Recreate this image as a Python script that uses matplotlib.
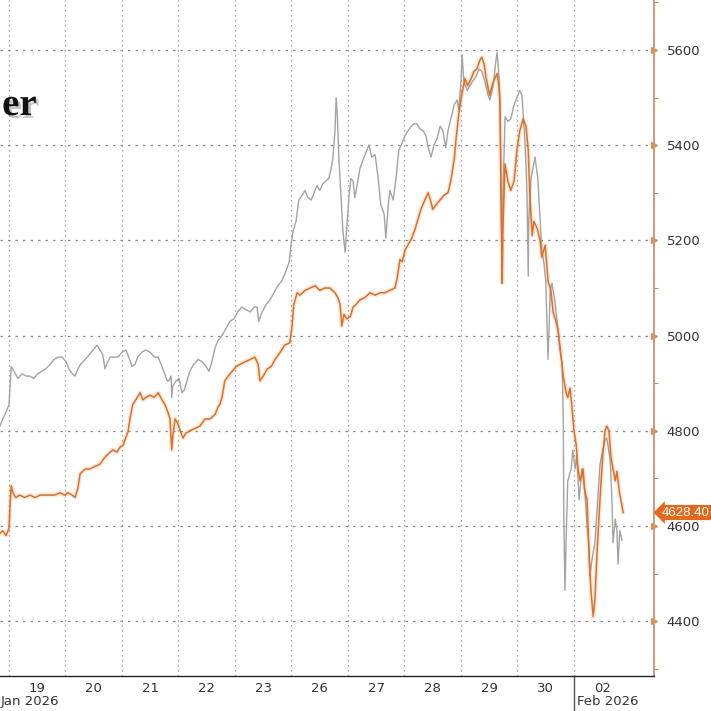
import matplotlib
matplotlib.use("Agg")
import matplotlib.pyplot as plt
import matplotlib.patheffects as pe
import matplotlib.transforms as mtransforms

# session offsets (days from the 19 Jan open) and prices
gold_t = [-0.16, -0.11, -0.05, 0.00, 0.02, 0.04, 0.07, 0.12, 0.19, 0.28, 0.37, 0.46, 0.55, 0.64, 0.73,
          0.81, 0.90, 0.99, 1.04, 1.12, 1.17, 1.22, 1.26, 1.35, 1.43, 1.52, 1.61, 1.70, 1.79, 1.84,
          1.91, 1.96, 2.02, 2.05, 2.11, 2.14, 2.19, 2.27, 2.32, 2.37, 2.42, 2.50, 2.57, 2.64, 2.71,
          2.76, 2.81, 2.85, 2.88, 2.90, 2.94, 2.99, 3.03, 3.08, 3.13, 3.20, 3.29, 3.38, 3.47, 3.56,
          3.65, 3.70, 3.73, 3.77, 3.82, 3.88, 3.95, 4.02, 4.09, 4.18, 4.27, 4.35, 4.41, 4.44, 4.50,
          4.57, 4.64, 4.71, 4.80, 4.88, 4.97, 5.01, 5.04, 5.10, 5.15, 5.24, 5.33, 5.42, 5.50, 5.59,
          5.68, 5.77, 5.82, 5.86, 5.89, 5.93, 5.98, 6.04, 6.09, 6.14, 6.21, 6.30, 6.39, 6.48, 6.57,
          6.65, 6.74, 6.83, 6.87, 6.92, 6.96, 7.01, 7.06, 7.13, 7.19, 7.24, 7.29, 7.36, 7.42, 7.47,
          7.50, 7.56, 7.63, 7.70, 7.77, 7.82, 7.88, 7.91, 7.96, 8.02, 8.07, 8.12, 8.18, 8.23, 8.28,
          8.34, 8.37, 8.41, 8.44, 8.48, 8.51, 8.55, 8.58, 8.64, 8.67, 8.69, 8.71, 8.73, 8.74, 8.78,
          8.83, 8.88, 8.94, 8.99, 9.04, 9.10, 9.15, 9.19, 9.22, 9.26, 9.29, 9.35, 9.40, 9.43, 9.49,
          9.54, 9.59, 9.63, 9.68, 9.72, 9.77, 9.81, 9.86, 9.89, 9.93, 9.96, 10.00, 10.04, 10.07, 10.11,
          10.16, 10.19, 10.23, 10.27, 10.30, 10.34, 10.37, 10.41, 10.44, 10.48, 10.51, 10.55, 10.58, 10.62, 10.65,
          10.69, 10.73, 10.76, 10.80, 10.83, 10.87]
gold_v = [4585, 4590, 4580, 4595, 4645, 4685, 4670, 4660, 4665, 4660, 4665, 4660, 4665, 4665, 4665,
          4665, 4670, 4665, 4670, 4665, 4660, 4680, 4710, 4720, 4720, 4725, 4730, 4745, 4755, 4760,
          4755, 4765, 4770, 4780, 4800, 4825, 4855, 4870, 4880, 4865, 4870, 4875, 4870, 4880, 4865,
          4855, 4840, 4825, 4760, 4790, 4825, 4815, 4800, 4785, 4795, 4800, 4805, 4810, 4825, 4825,
          4835, 4850, 4855, 4870, 4905, 4915, 4925, 4935, 4940, 4945, 4950, 4955, 4940, 4905, 4915,
          4930, 4935, 4950, 4965, 4980, 4985, 5020, 5065, 5090, 5085, 5095, 5100, 5105, 5095, 5100,
          5100, 5090, 5080, 5065, 5020, 5045, 5035, 5040, 5060, 5065, 5075, 5080, 5090, 5085, 5090,
          5090, 5095, 5100, 5120, 5160, 5155, 5180, 5190, 5205, 5225, 5245, 5265, 5285, 5300, 5280,
          5265, 5275, 5285, 5295, 5300, 5325, 5370, 5410, 5465, 5510, 5540, 5525, 5540, 5555, 5560,
          5580, 5585, 5570, 5545, 5520, 5505, 5525, 5535, 5550, 5525, 5485, 5285, 5110, 5220, 5360,
          5325, 5305, 5325, 5390, 5430, 5455, 5440, 5390, 5290, 5210, 5240, 5225, 5200, 5165, 5190,
          5115, 5095, 5050, 5030, 5010, 4960, 4915, 4880, 4870, 4890, 4855, 4800, 4770, 4720, 4695,
          4720, 4675, 4655, 4530, 4465, 4410, 4445, 4550, 4615, 4695, 4750, 4800, 4810, 4800, 4750,
          4720, 4695, 4715, 4675, 4655, 4628.40]

# second series, drawn against the same right-hand scale
grey_t = [-0.16, -0.11, -0.05, 0.00, 0.02, 0.04, 0.09, 0.16, 0.23, 0.30, 0.37, 0.44, 0.51, 0.58, 0.65,
          0.73, 0.80, 0.87, 0.94, 1.01, 1.06, 1.12, 1.17, 1.22, 1.27, 1.35, 1.42, 1.49, 1.56, 1.61,
          1.66, 1.70, 1.73, 1.79, 1.86, 1.93, 2.00, 2.07, 2.12, 2.18, 2.23, 2.28, 2.35, 2.42, 2.50,
          2.57, 2.64, 2.69, 2.74, 2.80, 2.83, 2.87, 2.88, 2.90, 2.96, 3.01, 3.06, 3.10, 3.15, 3.20,
          3.27, 3.35, 3.42, 3.49, 3.54, 3.59, 3.65, 3.70, 3.77, 3.84, 3.91, 3.98, 4.05, 4.12, 4.19,
          4.27, 4.34, 4.39, 4.42, 4.48, 4.55, 4.62, 4.69, 4.76, 4.83, 4.90, 4.96, 4.99, 5.03, 5.08,
          5.13, 5.19, 5.24, 5.29, 5.35, 5.40, 5.45, 5.50, 5.56, 5.61, 5.66, 5.70, 5.73, 5.77, 5.79,
          5.81, 5.84, 5.88, 5.91, 5.95, 5.98, 6.02, 6.05, 6.09, 6.12, 6.16, 6.21, 6.27, 6.32, 6.37,
          6.42, 6.48, 6.53, 6.58, 6.64, 6.67, 6.71, 6.74, 6.80, 6.85, 6.90, 6.96, 7.01, 7.06, 7.12,
          7.17, 7.22, 7.27, 7.33, 7.38, 7.42, 7.47, 7.52, 7.58, 7.63, 7.68, 7.73, 7.77, 7.82, 7.88,
          7.93, 7.96, 8.00, 8.02, 8.05, 8.11, 8.16, 8.21, 8.27, 8.32, 8.37, 8.42, 8.48, 8.51, 8.55,
          8.58, 8.62, 8.64, 8.67, 8.69, 8.71, 8.73, 8.74, 8.78, 8.83, 8.88, 8.94, 8.99, 9.04, 9.08,
          9.12, 9.15, 9.17, 9.19, 9.20, 9.24, 9.27, 9.31, 9.36, 9.40, 9.43, 9.47, 9.50, 9.54, 9.58,
          9.61, 9.66, 9.72, 9.75, 9.79, 9.81, 9.82, 9.84, 9.86, 9.89, 9.95, 9.98, 10.02, 10.05, 10.09,
          10.14, 10.19, 10.23, 10.27, 10.28, 10.32, 10.37, 10.42, 10.46, 10.51, 10.55, 10.58, 10.64, 10.67, 10.69,
          10.73, 10.76, 10.78, 10.81, 10.85]
grey_v = [4810, 4825, 4840, 4855, 4895, 4935, 4925, 4910, 4920, 4915, 4915, 4910, 4920, 4925, 4930,
          4940, 4950, 4955, 4955, 4945, 4930, 4920, 4915, 4930, 4940, 4950, 4960, 4970, 4980, 4970,
          4960, 4930, 4940, 4955, 4955, 4955, 4965, 4970, 4955, 4935, 4940, 4955, 4965, 4970, 4965,
          4955, 4955, 4940, 4925, 4905, 4905, 4915, 4870, 4895, 4905, 4910, 4880, 4885, 4905, 4925,
          4940, 4950, 4945, 4935, 4925, 4945, 4975, 4990, 5000, 5015, 5030, 5035, 5050, 5060, 5055,
          5050, 5060, 5060, 5030, 5050, 5065, 5075, 5090, 5105, 5115, 5135, 5155, 5190, 5220, 5240,
          5285, 5295, 5305, 5290, 5285, 5300, 5315, 5305, 5320, 5325, 5330, 5350, 5370, 5430, 5500,
          5465, 5370, 5285, 5220, 5175, 5230, 5295, 5330, 5325, 5290, 5315, 5350, 5370, 5385, 5400,
          5375, 5380, 5335, 5275, 5255, 5205, 5270, 5305, 5285, 5330, 5390, 5405, 5420, 5430, 5440,
          5445, 5445, 5435, 5430, 5420, 5395, 5375, 5400, 5415, 5440, 5430, 5395, 5430, 5455, 5485,
          5495, 5475, 5535, 5590, 5535, 5515, 5525, 5535, 5545, 5560, 5555, 5535, 5505, 5495, 5515,
          5535, 5580, 5595, 5545, 5500, 5305, 5110, 5285, 5460, 5450, 5455, 5485, 5500, 5515, 5505,
          5430, 5360, 5285, 5125, 5245, 5330, 5350, 5375, 5330, 5245, 5180, 5150, 5115, 4950, 5095,
          5110, 5075, 5010, 4970, 4940, 4825, 4615, 4465, 4570, 4695, 4720, 4760, 4720, 4750, 4655,
          4720, 4675, 4605, 4550, 4495, 4530, 4565, 4655, 4730, 4760, 4780, 4785, 4740, 4660, 4565,
          4615, 4590, 4520, 4590, 4570]

day_labels = ['19', '20', '21', '22', '23', '26', '27', '28', '29', '30', '02']
price_ticks = [4400, 4600, 4800, 5000, 5200, 5400, 5600]
last_price = gold_v[-1]

orange = '#dd7026'
grey = '#a3a3a3'
spine_col = '#c08a62'

fig = plt.figure(figsize=(7.11, 7.11), dpi=100)
ax = fig.add_axes([0, 35 / 711, 654 / 711, 676 / 711])
ax.set_xlim(-0.159, 11.416)
ax.set_ylim(4285, 5705)

ax.plot(grey_t, grey_v, color=grey, lw=1.0, zorder=3)
ax.plot(gold_t, gold_v, color=orange, lw=3.2, alpha=0.16, zorder=4)
ax.plot(gold_t, gold_v, color=orange, lw=1.1, zorder=5)

# grid: day boundaries as minor x ticks, labels in the middle of each session
ax.set_xticks(range(0, 11), minor=True)
ax.set_xticks([i + 0.5 for i in range(len(day_labels))], day_labels)
ax.grid(which='minor', axis='x', color='#8a8a8a', lw=0.9, ls=(0, (1, 3)))
ax.set_yticks(price_ticks)
ax.set_yticks([v + 100 for v in [4200] + price_ticks], minor=True)
ax.grid(which='major', axis='y', color='#8a8a8a', lw=0.9, ls=(0, (2, 4)))

ax.tick_params(axis='x', which='both', length=0, pad=4, labelsize=9.5, labelcolor='#333333')
ax.yaxis.tick_right()
ax.tick_params(axis='y', which='major', length=0, pad=9, labelsize=9.5, labelcolor='#333333')
ax.tick_params(axis='y', which='minor', length=3, width=0.8, color=spine_col, direction='out')

for s in ['left', 'top']:
    ax.spines[s].set_visible(False)
ax.spines['right'].set_color(spine_col)
ax.spines['right'].set_linewidth(1.2)
ax.spines['bottom'].set_color('#222222')
ax.spines['bottom'].set_linewidth(1.0)

# triangle markers on the price axis
ytrans = mtransforms.blended_transform_factory(ax.transAxes, ax.transData)
ax.plot([1.0] * len(price_ticks), price_ticks, ls='none', marker='>', ms=5,
        color='#d4935e', transform=ytrans, clip_on=False, zorder=6)

# month separator and month labels
xtrans = mtransforms.blended_transform_factory(ax.transData, ax.transAxes)
ax.plot([10, 10], [0, -0.06], color='#555555', lw=1.0, transform=xtrans, clip_on=False)
ax.text(10.06, -0.038, 'Feb 2026', transform=xtrans, ha='left', va='center',
        fontsize=9.5, color='#333333')
ax.text(-0.14, -0.038, 'Jan 2026', transform=xtrans, ha='left', va='center',
        fontsize=9.5, color='#333333')

# last price tag
ax.text(1.0115, last_price, f'{last_price:.2f}', transform=ytrans, ha='left', va='center',
        fontsize=9.5, family='Liberation Sans', color='white', zorder=7,
        bbox=dict(boxstyle='larrow,pad=0.12', fc='#e2691d', ec='none'))

# partly visible title
fig.text(0.003, 1 - 115 / 711, 'er', ha='left', va='baseline', fontsize=28,
         fontweight='bold', family='Liberation Serif', color='#111111',
         path_effects=[pe.SimplePatchShadow(offset=(2, -2), shadow_rgbFace='#888888', alpha=0.5),
                       pe.Normal()])

fig.savefig('out.png', dpi=100)
